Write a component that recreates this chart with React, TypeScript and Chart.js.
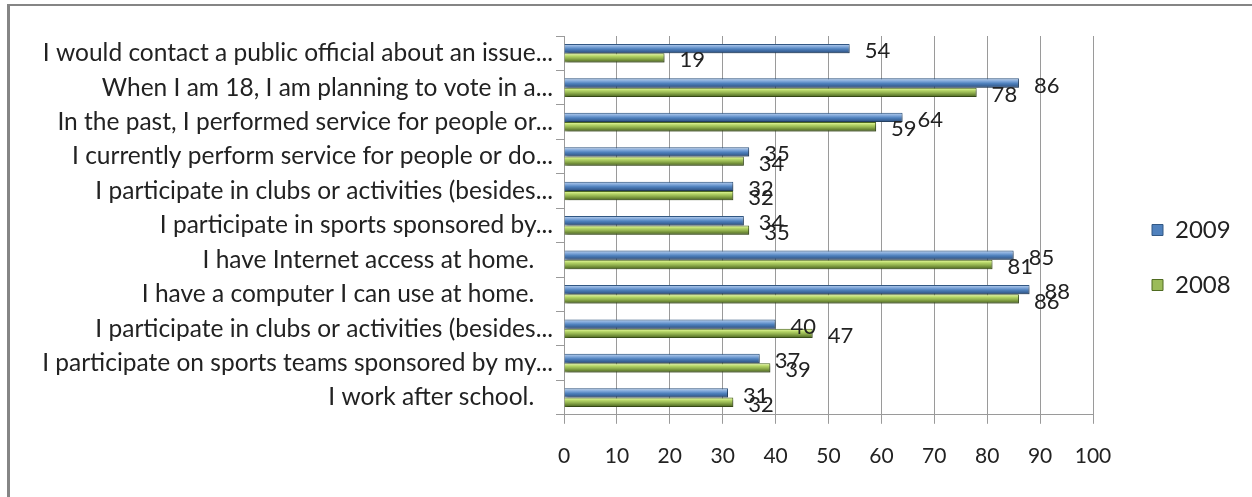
import React, { useEffect, useRef } from 'react';
import { Chart, registerables, layouts } from 'chart.js';

Chart.register(...registerables);

const categories = [
  'I would contact a public official about an issue...',
  'When I am 18, I am planning to vote in a...',
  'In the past, I performed service for people or...',
  'I currently perform service for people or do...',
  'I participate in clubs or activities (besides...',
  'I participate in sports sponsored by...',
  'I have Internet access at home.   ',
  'I have a computer I can use at home.   ',
  'I participate in clubs or activities (besides...',
  'I participate on sports teams sponsored by my...',
  'I work after school.   ',
];
const seriesNames = ['2009', '2008'];
const values2009 = [54, 86, 64, 35, 32, 34, 85, 88, 40, 37, 31];
const values2008 = [19, 78, 59, 34, 32, 35, 81, 86, 47, 39, 32];
const xTickMin = 0;
const xTickMax = 100;
const xTickStep = 10;

const FONT = 'Lato';
const TEXT = '#222222';
const GRID = '#9a9a9a';

const solid = ['#4f81bd', '#9bbb59'];
const borders = ['#325884', '#4f6b21'];
const gradStops: [number, string][][] = [
  [
    [0, '#4a78b0'],
    [0.14, '#a3c0e6'],
    [0.32, '#7da5d8'],
    [0.55, '#4f81bd'],
    [1, '#2b4d7c'],
  ],
  [
    [0, '#93b44c'],
    [0.14, '#d6ee8c'],
    [0.32, '#b4d466'],
    [0.55, '#93b24f'],
    [1, '#48621d'],
  ],
];

const legendSpacer = {
  id: 'legendSpacer',
  beforeInit(chart: any) {
    const box: any = {
      position: 'right',
      weight: -10,
      fullSize: false,
      options: { stackWeight: 1 },
      width: 0,
      height: 0,
      left: 0,
      top: 0,
      right: 0,
      bottom: 0,
      isHorizontal() {
        return false;
      },
      update(_maxWidth: number, maxHeight: number) {
        this.width = 28;
        this.height = maxHeight;
      },
      getPadding() {
        return { left: 0, right: 0, top: 0, bottom: 0 };
      },
      draw() {},
    };
    layouts.addBox(chart, box);
  },
};

const barStylePlugin = {
  id: 'barStyle',
  beforeDatasetsDraw(chart: any) {
    const ctx = chart.ctx;
    chart.data.datasets.forEach((_ds: any, di: number) => {
      const meta = chart.getDatasetMeta(di);
      meta.data.forEach((el: any) => {
        const { y, height } = el.getProps(['y', 'height'], true);
        const top = y - height / 2;
        const bottom = y + height / 2;
        const g = ctx.createLinearGradient(0, top, 0, bottom);
        gradStops[di].forEach(([o, c]) => g.addColorStop(o, c));
        try {
          el.options.backgroundColor = g;
        } catch (e) {
          /* ignore */
        }
      });
    });
    ctx.save();
    ctx.shadowColor = 'rgba(0,0,0,0.38)';
    ctx.shadowBlur = 3;
    ctx.shadowOffsetX = 2;
    ctx.shadowOffsetY = 2;
  },
  afterDatasetsDraw(chart: any) {
    const ctx = chart.ctx;
    ctx.restore();
    ctx.save();
    ctx.font = `22px ${FONT}`;
    ctx.fillStyle = TEXT;
    ctx.textAlign = 'left';
    ctx.textBaseline = 'middle';
    chart.data.datasets.forEach((ds: any, di: number) => {
      const meta = chart.getDatasetMeta(di);
      meta.data.forEach((el: any, i: number) => {
        const { x, y } = el.getProps(['x', 'y'], true);
        ctx.fillText(String(ds.data[i]), x + 15, y + 2.5);
      });
    });
    ctx.restore();
  },
};

export default function App() {
  const ref = useRef<HTMLCanvasElement | null>(null);

  useEffect(() => {
    if (!ref.current) return;
    const chart = new Chart(ref.current, {
      type: 'bar',
      data: {
        labels: categories,
        datasets: [
          {
            label: seriesNames[0],
            data: values2009,
            backgroundColor: () => solid[0],
            borderColor: borders[0],
            borderWidth: 1,
            categoryPercentage: 0.54,
            barPercentage: 1,
          },
          {
            label: seriesNames[1],
            data: values2008,
            backgroundColor: () => solid[1],
            borderColor: borders[1],
            borderWidth: 1,
            categoryPercentage: 0.54,
            barPercentage: 1,
          },
        ],
      },
      options: {
        indexAxis: 'y',
        responsive: false,
        animation: false,
        devicePixelRatio: 1,
        layout: { padding: { top: 36, bottom: 18, left: 0, right: 0 } },
        plugins: {
          legend: {
            position: 'right',
            labels: {
              font: { family: FONT, size: 24 },
              color: TEXT,
              boxWidth: 11,
              boxHeight: 11,
              padding: 31,
            },
          },
          tooltip: { enabled: false },
        },
        scales: {
          x: {
            min: xTickMin,
            max: xTickMax,
            ticks: {
              stepSize: xTickStep,
              font: { family: FONT, size: 21 },
              color: TEXT,
              padding: 20,
            },
            grid: { color: GRID, tickLength: 9, drawTicks: true },
            border: { color: GRID },
            afterFit(scale: any) {
              scale.paddingRight = 159;
              scale.height = scale.height - 10;
            },
          },
          y: {
            ticks: {
              font: { family: FONT, size: 24.5 },
              color: TEXT,
              padding: 3,
              autoSkip: false,
            },
            grid: { drawOnChartArea: false, drawTicks: true, tickLength: 8, color: GRID, offset: true },
            border: { color: GRID },
            afterFit(scale: any) {
              scale.width = 564;
            },
          },
        },
      },
      plugins: [legendSpacer, barStylePlugin],
    } as any);
    return () => chart.destroy();
  }, []);

  return (
    <div
      style={{
        position: 'fixed',
        left: 0,
        top: 0,
        width: 1252,
        height: 497,
        overflow: 'hidden',
        background: '#ffffff',
      }}
    >
      <div
        style={{
          position: 'absolute',
          left: 7,
          top: 4,
          width: 1300,
          height: 600,
          borderLeft: '3px solid #858585',
          borderTop: '2px solid #858585',
          boxSizing: 'border-box',
        }}
      />
      <canvas
        ref={ref}
        width={1252}
        height={497}
        style={{ position: 'absolute', left: 0, top: 0, width: 1252, height: 497 }}
      />
    </div>
  );
}
